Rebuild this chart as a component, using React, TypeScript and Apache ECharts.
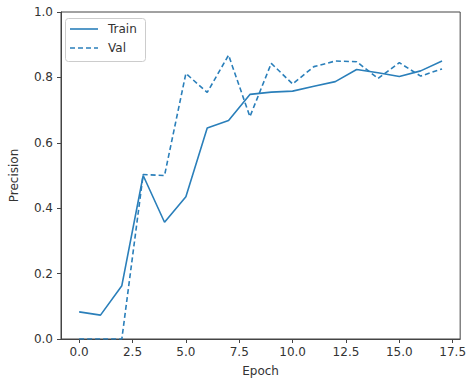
import React, { useEffect, useRef } from "react";
import * as echarts from "echarts";

const epochs = [0, 1, 2, 3, 4, 5, 6, 7, 8, 9, 10, 11, 12, 13, 14, 15, 16, 17];
const trainPrecision = [0.083, 0.073, 0.163, 0.5, 0.357, 0.435, 0.645, 0.668, 0.748, 0.755, 0.758, 0.773, 0.787, 0.824, 0.814, 0.803, 0.82, 0.85];
const valPrecision = [0, 0, 0, 0.503, 0.5, 0.812, 0.754, 0.868, 0.68, 0.843, 0.78, 0.833, 0.85, 0.848, 0.797, 0.845, 0.804, 0.826];
const xTicks = [0, 2.5, 5, 7.5, 10, 12.5, 15, 17.5];
const legendNames = ["Train", "Val"];

export default function App() {
  const ref = useRef<HTMLDivElement>(null);
  useEffect(() => {
    if (!ref.current) return;
    const chart = echarts.init(ref.current, undefined, { renderer: "svg" });
    const color = "#2a7fba";
    const textColor = "#333";
    const font = "DejaVu Sans";
    chart.setOption({
      animation: false,
      backgroundColor: "#fff",
      grid: { left: 58, top: 12, right: 7, bottom: 46, show: true, borderColor: "#444", borderWidth: 1 },
      graphic: [
        {
          type: "rect",
          shape: { x: 65.5, y: 18.5, width: 80, height: 43, r: 3 },
          style: { fill: "#fff", stroke: "#ccc", lineWidth: 1 },
          z: 100,
        },
        {
          type: "line",
          shape: { x1: 70, y1: 29, x2: 98, y2: 29 },
          style: { stroke: color, lineWidth: 1.6 },
          z: 101,
        },
        {
          type: "line",
          shape: { x1: 70, y1: 48, x2: 98, y2: 48 },
          style: { stroke: color, lineWidth: 1.6, lineDash: [5, 3] },
          z: 101,
        },
        {
          type: "text",
          x: 108,
          y: 29,
          style: { text: legendNames[0], fontFamily: font, fontSize: 12, fill: textColor, verticalAlign: "middle" },
          z: 101,
        },
        {
          type: "text",
          x: 108,
          y: 48,
          style: { text: legendNames[1], fontFamily: font, fontSize: 12, fill: textColor, verticalAlign: "middle" },
          z: 101,
        },
      ],
      xAxis: {
        type: "value",
        min: -0.85,
        max: 17.85,
        name: "Epoch",
        nameLocation: "middle",
        nameGap: 26,
        nameTextStyle: { fontFamily: font, fontSize: 12, color: textColor },
        axisLine: { show: true, onZero: false, lineStyle: { color: "#444" } },
        axisTick: { show: true, length: 4, customValues: xTicks, lineStyle: { color: "#444" } },
        axisLabel: {
          customValues: xTicks,
          margin: 7,
          fontFamily: font,
          fontSize: 12,
          color: textColor,
          formatter: (v: number) => v.toFixed(1),
        },
        splitLine: { show: false },
      },
      yAxis: {
        type: "value",
        min: 0,
        max: 1,
        interval: 0.2,
        name: "Precision",
        nameLocation: "middle",
        nameGap: 41,
        nameTextStyle: { fontFamily: font, fontSize: 12, color: textColor },
        axisLine: { show: true, onZero: false, lineStyle: { color: "#444" } },
        axisTick: { show: true, length: 4, lineStyle: { color: "#444" } },
        axisLabel: {
          margin: 8,
          fontFamily: font,
          fontSize: 12,
          color: textColor,
          formatter: (v: number) => v.toFixed(1),
        },
        splitLine: { show: false },
      },
      series: [
        {
          name: "Train",
          type: "line",
          symbol: "none",
          data: epochs.map((e, i) => [e, trainPrecision[i]]),
          lineStyle: { color, width: 1.6, type: "solid" },
          itemStyle: { color },
        },
        {
          name: "Val",
          type: "line",
          symbol: "none",
          data: epochs.map((e, i) => [e, valPrecision[i]]),
          lineStyle: { color, width: 1.6, type: [5, 3] },
          itemStyle: { color },
        },
      ],
    });
    return () => chart.dispose();
  }, []);
  return <div ref={ref} style={{ position: "fixed", left: 0, top: 0, width: 469, height: 385 }} />;
}
